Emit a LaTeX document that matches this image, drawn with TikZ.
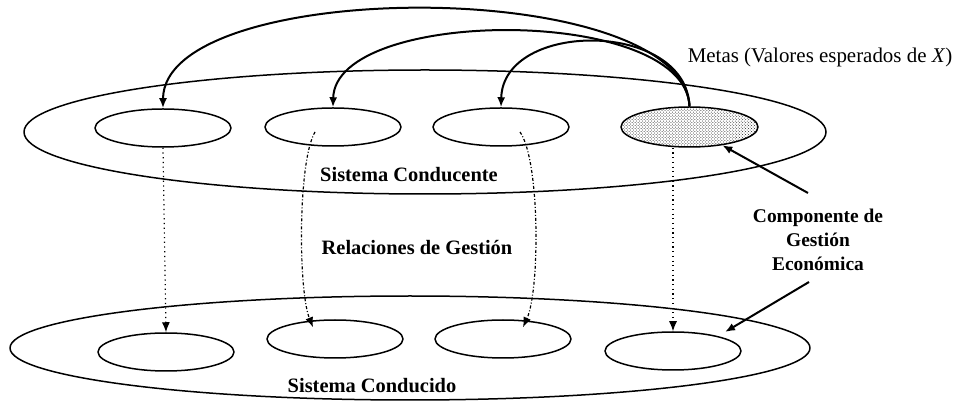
\documentclass[tikz,border=0pt]{standalone}
\usepackage{fontspec}
\setmainfont{Liberation Serif}
\usetikzlibrary{shapes.geometric,patterns,arrows.meta}
\begin{document}
\begin{tikzpicture}[>={Latex[length=10bp,width=8bp]},line join=bevel,
  sistema/.style={draw,ellipse,line width=1.5bp,inner sep=0pt},
  comp/.style={draw,ellipse,line width=1.5bp,inner sep=0pt,minimum width=136bp,minimum height=38bp},
  rotulo/.style={font=\fontsize{20.5}{24}\selectfont\bfseries,inner sep=0pt},
  enlace/.style={line width=1.2bp,dash pattern=on 1.2bp off 3.5bp},
  enlace curvo/.style={line width=1.2bp,dash pattern=on 3bp off 2bp on 1bp off 2bp},
  meta/.style={line width=2bp},
]
%%
\useasboundingbox (0bp,0bp) rectangle (956bp,405bp);
\node (sistema_conducente) at (425bp,273bp) [sistema,minimum width=802bp,minimum height=124bp] {};
  \node (sistema_conducido) at (410bp,57bp) [sistema,minimum width=800bp,minimum height=104bp] {};
%
\node (conducente_1) at (163bp,277bp) [comp] {};
  \node (conducente_2) at (333bp,278bp) [comp] {};
  \node (conducente_3) at (501bp,278bp) [comp] {};
  \node (conducente_4) at (689.5bp,278bp) [comp,minimum width=137bp,minimum height=40bp,pattern=crosshatch dots,pattern color=black!85] {};
  \node (conducido_1) at (166bp,53bp) [comp] {};
  \node (conducido_2) at (335bp,66bp) [comp] {};
  \node (conducido_3) at (503bp,66bp) [comp] {};
  \node (conducido_4) at (673bp,54bp) [comp] {};
%
\node (lbl_conducente) at (409bp,230bp) [rotulo] {Sistema Conducente};
  \node (lbl_relaciones) at (417bp,157bp) [rotulo] {Relaciones de Gestión};
  \node (lbl_conducido) at (372bp,19bp) [rotulo] {Sistema Conducido};
  \node (lbl_metas) at (820bp,348bp) [rotulo,font=\fontsize{21}{24}\selectfont] {Metas (Valores esperados de \textit{X})};
  \node (lbl_componente) at (818bp,165bp) [rotulo,font=\fontsize{19.5}{24}\selectfont\bfseries,align=center] {Componente de\\Gestión\\Económica};
%
\coordinate (comp_arriba) at (808bp,212bp);
  \coordinate (comp_abajo) at (809bp,123bp);
  \coordinate (punta_conducido) at (725bp,73bp);
%
\draw [meta,->] (conducente_4.north) ..controls (682bp,430bp) and (163bp,428bp) .. (conducente_1.north);
  \draw [meta,->] (conducente_4.north) ..controls (685bp,400bp) and (335bp,398bp) .. (conducente_2.north);
  \draw [meta,->] (conducente_4.north) ..controls (686bp,385bp) and (503bp,385bp) .. (conducente_3.north);
%
\draw [enlace,->] (conducente_1.south) -- (conducido_1.north);
  \draw [enlace,->] (conducido_4.north |- conducente_4.south) -- (conducido_4.north);
  \draw [enlace curvo,->] ([shift={(-18bp,-5bp)}]conducente_2.center) ..controls (298bp,245bp) and (298bp,115bp) .. ([shift={(-22bp,-8bp)}]conducido_2.north);
  \draw [enlace curvo,->] ([shift={(19bp,-5bp)}]conducente_3.center) ..controls (540bp,245bp) and (540bp,115bp) .. ([shift={(20bp,-8bp)}]conducido_3.north);
%
\draw [meta,->] (comp_arriba) -- (conducente_4);
  \draw [meta,->] (comp_abajo) -- (punta_conducido);
%
\end{tikzpicture}
\end{document}
